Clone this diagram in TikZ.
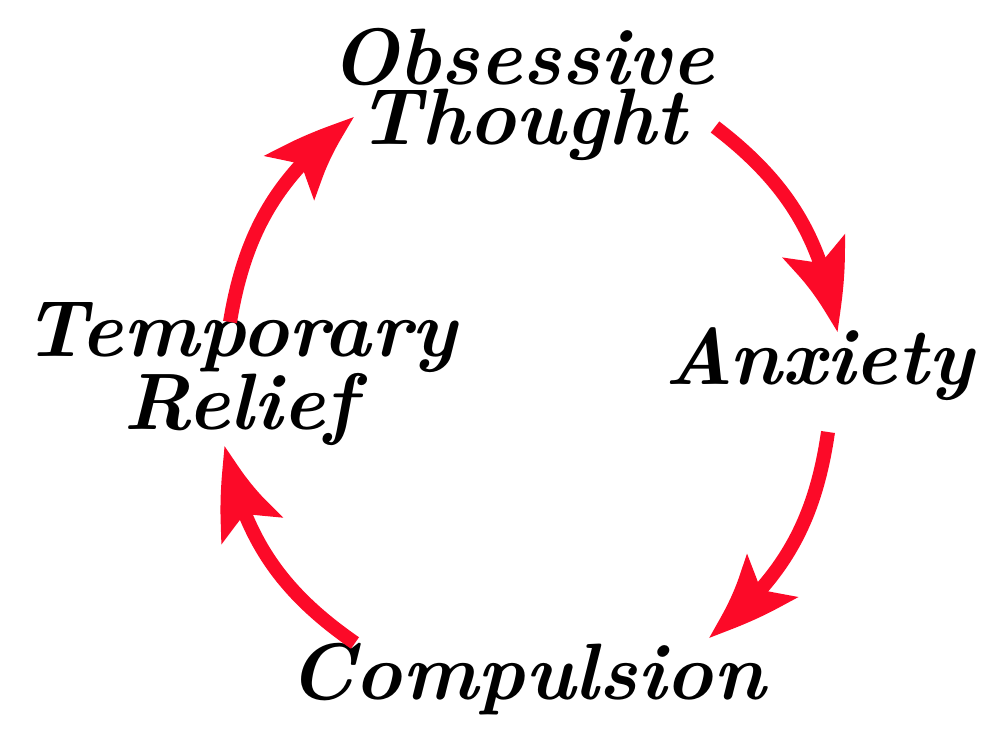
\documentclass[tikz,border=0pt]{standalone}
\usepackage{fontspec}
\usetikzlibrary{arrows.meta,bending}
\definecolor{arrred}{RGB}{252,10,40}
\tikzset{
  cyc/.style={draw=arrred, line width=14pt, -{Stealth[length=96pt,width=64pt,inset=20pt,bend]}},
  lbl/.style={font=\fontsize{80}{60}\selectfont\bfseries\itshape, align=center, inner sep=0pt, anchor=base}
}
\begin{document}
\begin{tikzpicture}[x=1pt,y=1pt]
\useasboundingbox (0,0) rectangle (1000,746);
\node[lbl] (obs) at (522,601) {Obsessive\\Thought};
\node[lbl] (anx) at (819,361) {Anxiety};
\node[lbl] (com) at (527,46) {Compulsion};
\node[lbl] (rel) at (240,316) {Temporary\\Relief};
\coordinate (s1) at (715,619); \coordinate (t1) at (837,413);
\coordinate (s2) at (828,314); \coordinate (t2) at (708,108);
\coordinate (s3) at (355,103); \coordinate (t3) at (225,301);
\coordinate (s4) at (230,424); \coordinate (t4) at (355,629);
\draw[cyc] (s1) to[bend left=22] (t1);
\draw[cyc] (s2) to[bend left=22] (t2);
\draw[cyc] (s3) to[bend left=22] (t3);
\draw[cyc] (s4) to[bend left=22] (t4);
\end{tikzpicture}
\end{document}
